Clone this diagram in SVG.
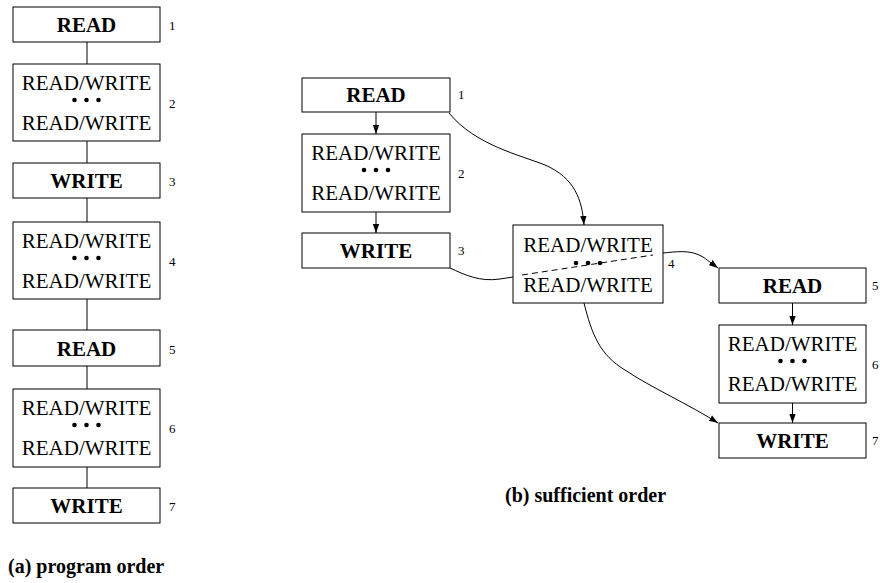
<svg xmlns="http://www.w3.org/2000/svg" width="880" height="583" viewBox="0 0 880 583">
<defs>
<style>
text{font-family:'Liberation Serif','DejaVu Serif','Times New Roman',serif;fill:#000}
.box{fill:#fff;stroke:#000;stroke-width:1}
.b{font-weight:bold;font-size:21px;text-anchor:middle}
.r{font-size:21px;text-anchor:middle}
.n{font-size:13px}
.cap{font-weight:bold;font-size:20px}
.ln{fill:none;stroke:#000;stroke-width:1}
</style>
<marker id="ah" viewBox="0 0 10 10" refX="10" refY="5" markerWidth="9" markerHeight="9" markerUnits="userSpaceOnUse" orient="auto">
<path d="M0,1.5 L10,5 L0,8.5 Z" fill="#000"/>
</marker>
<g id="dots"><circle cx="-12" cy="0" r="2.3"/><circle cx="0" cy="0" r="2.3"/><circle cx="12" cy="0" r="2.3"/></g>
</defs>
<rect width="880" height="583" fill="#fff"/>

<g id="connectors">
<line class="ln" x1="87" y1="42" x2="87" y2="64"/>
<line class="ln" x1="87" y1="141" x2="87" y2="163"/>
<line class="ln" x1="87" y1="198" x2="87" y2="222"/>
<line class="ln" x1="87" y1="299" x2="87" y2="330"/>
<line class="ln" x1="87" y1="366" x2="87" y2="389"/>
<line class="ln" x1="87" y1="467" x2="87" y2="488"/>
<line class="ln" x1="376" y1="112" x2="376" y2="134" marker-end="url(#ah)"/>
<line class="ln" x1="376" y1="212" x2="376" y2="233" marker-end="url(#ah)"/>
<path class="ln" d="M449,113 C475,145 520,155 545,165 C575,178 582,200 584,225" marker-end="url(#ah)"/>
<path class="ln" d="M450,268 C465,275 480,282 500,279 L513,277"/>
<path class="ln" d="M663,253 C675,252 690,249 703,257 C710,262 714,265 718,268" marker-end="url(#ah)"/>
<path class="ln" d="M584,303 C592,335 600,355 625,370 C650,387 690,405 718,423" marker-end="url(#ah)"/>
<line class="ln" x1="792.5" y1="303" x2="792.5" y2="325" marker-end="url(#ah)"/>
<line class="ln" x1="792.5" y1="403" x2="792.5" y2="423" marker-end="url(#ah)"/>
</g>

<g id="a1"><rect class="box" x="13" y="7" width="147" height="35"/><text class="b" x="86.5" y="32">READ</text><text class="n" x="169" y="30">1</text></g>
<g id="a2"><rect class="box" x="13" y="64" width="147" height="77"/><text class="r" x="86.5" y="90">READ/WRITE</text><use href="#dots" x="86.5" y="100"/><text class="r" x="86.5" y="130">READ/WRITE</text><text class="n" x="169" y="108">2</text></g>
<g id="a3"><rect class="box" x="13" y="163" width="147" height="35"/><text class="b" x="86.5" y="188">WRITE</text><text class="n" x="169" y="186">3</text></g>
<g id="a4"><rect class="box" x="13" y="222" width="147" height="77"/><text class="r" x="86.5" y="248">READ/WRITE</text><use href="#dots" x="86.5" y="258"/><text class="r" x="86.5" y="288">READ/WRITE</text><text class="n" x="169" y="266">4</text></g>
<g id="a5"><rect class="box" x="13" y="330" width="147" height="36"/><text class="b" x="86.5" y="356">READ</text><text class="n" x="169" y="354">5</text></g>
<g id="a6"><rect class="box" x="13" y="389" width="147" height="78"/><text class="r" x="86.5" y="415">READ/WRITE</text><use href="#dots" x="86.5" y="425"/><text class="r" x="86.5" y="455">READ/WRITE</text><text class="n" x="169" y="433">6</text></g>
<g id="a7"><rect class="box" x="13" y="488" width="147" height="35"/><text class="b" x="86.5" y="513">WRITE</text><text class="n" x="169" y="511">7</text></g>
<text class="cap" x="8" y="573">(a) program order</text>

<g id="b1"><rect class="box" x="302" y="78" width="148" height="34"/><text class="b" x="376" y="102">READ</text><text class="n" x="458" y="99">1</text></g>
<g id="b2"><rect class="box" x="302" y="134" width="148" height="78"/><text class="r" x="376" y="160">READ/WRITE</text><use href="#dots" x="376" y="170"/><text class="r" x="376" y="200">READ/WRITE</text><text class="n" x="458" y="178">2</text></g>
<g id="b3"><rect class="box" x="302" y="233" width="148" height="35"/><text class="b" x="376" y="258">WRITE</text><text class="n" x="458" y="255">3</text></g>
<g id="b4"><rect class="box" x="513" y="225" width="150" height="78"/><text class="r" x="588" y="252">READ/WRITE</text><use href="#dots" x="588" y="263"/><text class="r" x="588" y="292">READ/WRITE</text><text class="n" x="668" y="268">4</text></g>
<g id="b5"><rect class="box" x="719" y="268" width="147" height="35"/><text class="b" x="792.5" y="293">READ</text><text class="n" x="872" y="290">5</text></g>
<g id="b6"><rect class="box" x="719" y="325" width="147" height="78"/><text class="r" x="792.5" y="351">READ/WRITE</text><use href="#dots" x="792.5" y="361"/><text class="r" x="792.5" y="391">READ/WRITE</text><text class="n" x="872" y="369">6</text></g>
<g id="b7"><rect class="box" x="719" y="423" width="147" height="35"/><text class="b" x="792.5" y="448">WRITE</text><text class="n" x="872" y="445">7</text></g>
<text class="cap" x="505" y="502">(b) sufficient order</text>
<path class="ln" d="M522,275 L653,255" stroke-dasharray="6,4"/>
</svg>
